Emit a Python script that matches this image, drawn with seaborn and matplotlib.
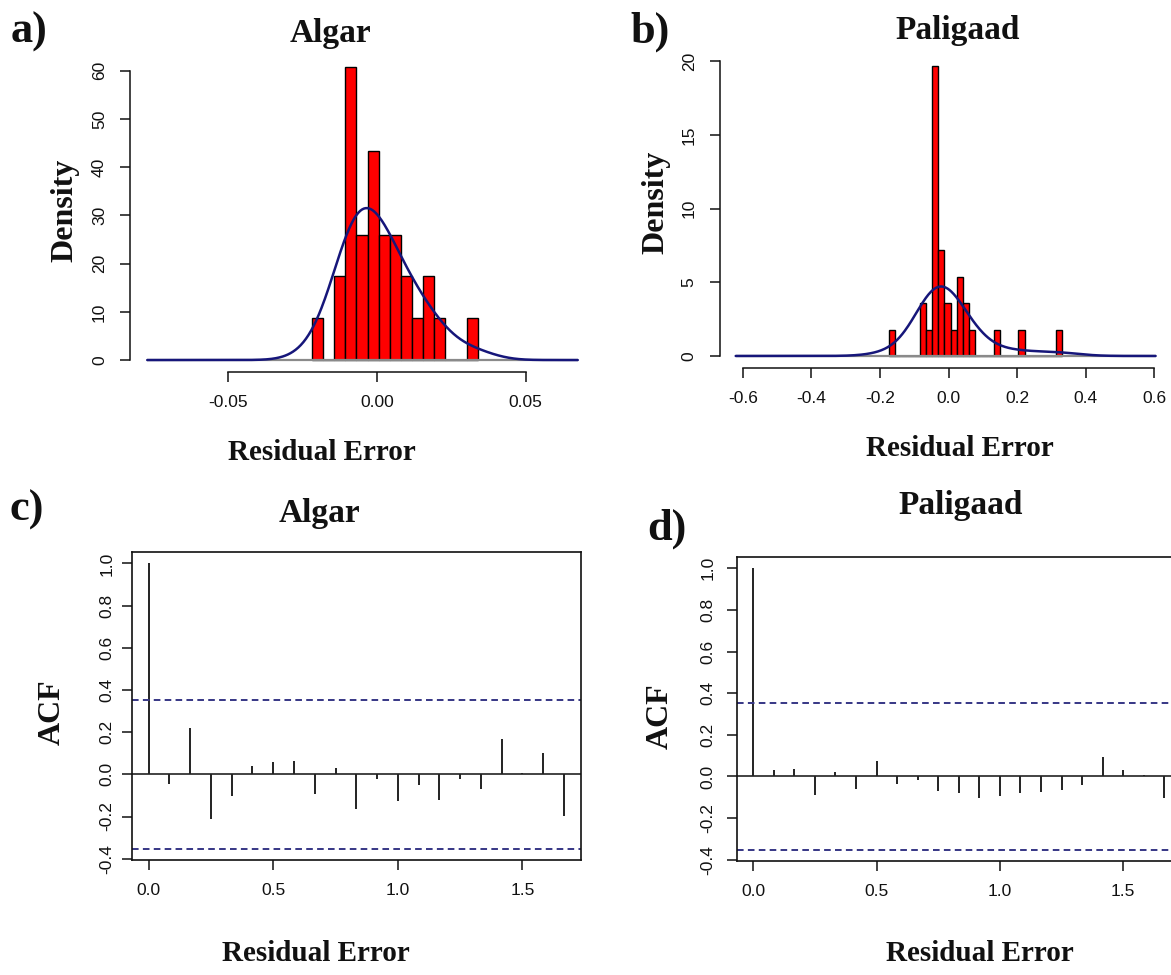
import numpy as np
import matplotlib
matplotlib.use("Agg")
import matplotlib.pyplot as plt
import seaborn as sns

# ---------------- data ----------------
# a) Algar residual histogram (bin edges and counts, n = 31)
algar_edges = [-0.0218, -0.01808, -0.01436, -0.01064, -0.00692, -0.0032,
               0.00052, 0.00424, 0.00796, 0.01168, 0.0154, 0.01912,
               0.02284, 0.02656, 0.03028, 0.034]
algar_counts = [1, 0, 2, 7, 3, 5, 3, 3, 2, 1, 2, 1, 0, 0, 1]

# b) Paligaad residual histogram (bin edges and counts, n = 31)
pali_edges = [-0.174, -0.156, -0.138, -0.120, -0.102, -0.084, -0.066, -0.048,
              -0.030, -0.012, 0.006, 0.024, 0.042, 0.060, 0.078, 0.096, 0.114,
              0.132, 0.150, 0.168, 0.186, 0.204, 0.222, 0.240, 0.258, 0.276,
              0.294, 0.312, 0.330]
pali_counts = [1, 0, 0, 0, 0, 2, 1, 11, 4, 2, 1, 3, 2, 1, 0, 0, 0, 1, 0, 0,
               0, 1, 0, 0, 0, 0, 0, 1]

# c), d) autocorrelation of the residuals (lag in years, monthly series)
acf_lags = [0.0, 0.0833, 0.1667, 0.25, 0.3333, 0.4167, 0.5, 0.5833, 0.6667,
            0.75, 0.8333, 0.9167, 1.0, 1.0833, 1.1667, 1.25, 1.3333, 1.4167,
            1.5, 1.5833, 1.6667]
algar_acf = [1.0, -0.046, 0.218, -0.214, -0.104, 0.039, 0.058, 0.062, -0.095,
             0.030, -0.163, -0.020, -0.128, -0.052, -0.123, -0.022, -0.071,
             0.167, 0.006, 0.101, -0.199]
pali_acf = [1.0, 0.031, 0.036, -0.088, 0.021, -0.061, 0.073, -0.035, -0.015,
            -0.068, -0.080, -0.102, -0.094, -0.080, -0.075, -0.063, -0.043,
            0.092, 0.031, 0.009, -0.103]
acf_ci = 0.352

# ---------------- style ----------------
sns.set_style("ticks")
plt.rcParams["font.family"] = ["Liberation Sans", "DejaVu Sans"]
plt.rcParams["axes.unicode_minus"] = False

W, H = 1171, 975
fig = plt.figure(figsize=(W / 100, H / 100), dpi=100)
SERIF = ["Liberation Serif", "DejaVu Serif"]
INK = "#111111"


def px_axes(L, T, R, B):
    return fig.add_axes([L / W, 1 - B / H, (R - L) / W, (B - T) / H])


def ftext(x, y, s, size, rot=0, va="baseline"):
    fig.text(x / W, 1 - y / H, s, fontsize=size, fontweight="bold",
             family=SERIF, rotation=rot, ha="center", va=va, color=INK)


def style_ticks(ax, ypad, xpad=9.5):
    ax.tick_params(axis="both", direction="out", length=7, width=1.1,
                   colors=INK, labelsize=12.5)
    ax.tick_params(axis="y", labelrotation=90, pad=ypad)
    ax.tick_params(axis="x", pad=xpad)
    for lab in ax.get_yticklabels():
        lab.set_va("center")
    ax.set_xlabel("")
    ax.set_ylabel("")


def hist_panel(ax, edges, counts, bw_adjust, clip, xlim, ylim, xticks,
               xlabels, yticks, ypad):
    edges = np.asarray(edges)
    centers = (edges[:-1] + edges[1:]) / 2
    samples = np.repeat(centers, counts)
    sns.histplot(x=samples, bins=edges, stat="density", color="#ff0000",
                 edgecolor="black", linewidth=1.0, alpha=1.0, ax=ax)
    ax.hlines(0, clip[0], clip[1], color="#8a8a8a", lw=1.6, zorder=1.5)
    sns.kdeplot(x=samples, bw_adjust=bw_adjust, cut=40, clip=clip,
                gridsize=500, color="#16167a", lw=1.8, ax=ax)
    ax.set_xlim(*xlim)
    ax.set_ylim(*ylim)
    ax.set_xticks(xticks)
    ax.set_xticklabels(xlabels)
    ax.set_yticks(yticks)
    ax.set_yticklabels([str(v) for v in yticks])
    for s in ["top", "right"]:
        ax.spines[s].set_visible(False)
    for s in ["left", "bottom"]:
        ax.spines[s].set_linewidth(1.1)
        ax.spines[s].set_color(INK)
    ax.spines["left"].set_bounds(yticks[0], yticks[-1])
    ax.spines["bottom"].set_bounds(xticks[0], xticks[-1])
    style_ticks(ax, ypad)


def acf_panel(ax, acf, ypad):
    ax.vlines(acf_lags, 0, acf, color="#222222", lw=1.4)
    ax.axhline(0, color="#222222", lw=1.2)
    for c in (acf_ci, -acf_ci):
        ax.axhline(c, color="#363685", lw=1.4, ls=(0, (3.4, 2.2)))
    ax.set_xlim(-0.0667, 1.7333)
    ax.set_ylim(-0.406, 1.054)
    yt = [-0.4, -0.2, 0.0, 0.2, 0.4, 0.6, 0.8, 1.0]
    ax.set_yticks(yt)
    ax.set_yticklabels([f"{v:.1f}" for v in yt])
    xt = [0.0, 0.5, 1.0, 1.5]
    ax.set_xticks(xt)
    ax.set_xticklabels([f"{v:.1f}" for v in xt])
    for s in ax.spines.values():
        s.set_linewidth(1.2)
        s.set_color(INK)
    style_ticks(ax, ypad)


# a) Algar histogram
axa = px_axes(130, 54.4, 595, 371.8)
hist_panel(axa, algar_edges, algar_counts, 1.3, (-0.0773, 0.0675),
           (-0.0831, 0.0733), (-2.44, 63.4), [-0.05, 0.0, 0.05],
           ["-0.05", "0.00", "0.05"], [0, 10, 20, 30, 40, 50, 60], 9.5)

# b) Paligaad histogram
axb = px_axes(719.6, 54, 1172.4, 367.6)
hist_panel(axb, pali_edges, pali_counts, 1.4, (-0.621, 0.604),
           (-0.668, 0.653), (-0.79, 20.5),
           [-0.6, -0.4, -0.2, 0.0, 0.2, 0.4, 0.6],
           ["-0.6", "-0.4", "-0.2", "0.0", "0.2", "0.4", "0.6"],
           [0, 5, 10, 15, 20], 9.5)

# c) Algar ACF
axc = px_axes(132, 552, 580.6, 860)
acf_panel(axc, algar_acf, 5.5)

# d) Paligaad ACF (right part runs off the figure, as in the original)
axd = px_axes(736.7, 557, 1180.8, 861)
acf_panel(axd, pali_acf, 8.5)

# texts
ftext(29, 43, "a)", 32)
ftext(330, 42, "Algar", 24)
ftext(650, 43, "b)", 32)
ftext(958, 39, "Paligaad", 24)
ftext(27, 521, "c)", 32)
ftext(319, 522, "Algar", 24)
ftext(667, 540, "d)", 32)
ftext(961, 514, "Paligaad", 24)

ftext(65, 210, "Density", 23, rot=90, va="center")
ftext(656, 202, "Density", 23, rot=90, va="center")
ftext(52, 712, "ACF", 23, rot=90, va="center")
ftext(660, 716, "ACF", 23, rot=90, va="center")

ftext(322, 460, "Residual Error", 21)
ftext(960, 456, "Residual Error", 21)
ftext(316, 961, "Residual Error", 21)
ftext(980, 961, "Residual Error", 21)

fig.savefig("out.png", dpi=100)
